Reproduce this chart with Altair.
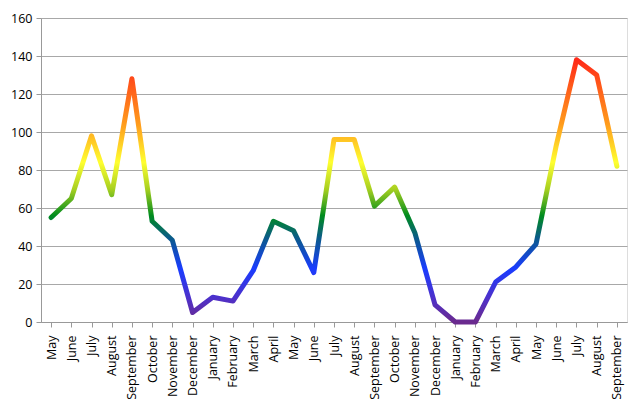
import altair as alt
import pandas as pd

months = ["May", "June", "July", "August", "September", "October", "November",
          "December", "January", "February", "March", "April", "May", "June",
          "July", "August", "September", "October", "November", "December",
          "January", "February", "March", "April", "May", "June", "July",
          "August", "September"]
values = [55, 65, 98, 67, 128, 53, 43, 5, 13, 11, 27, 53, 48, 26,
          96, 96, 61, 71, 47, 9, 0, 0, 21, 29, 41, 93, 138, 130, 82]

# colour stops along the value axis
stop_values = [0, 12, 28, 44, 56, 70, 84, 104, 124, 138]
stop_colors = ["#6a2a8e", "#4f30c8", "#1a3cff", "#0b5a8c", "#008c1e",
               "#a8d020", "#ffff30", "#ff9c1c", "#ff5a1a", "#ff2a18"]

df = pd.DataFrame({"i": list(range(len(months))), "month": months, "value": values})

vmax = max(values)
stops = [alt.GradientStop(offset=min(v / vmax, 1.0), color=c)
         for v, c in zip(stop_values, stop_colors)]

label_expr = "[" + ",".join("'" + m + "'" for m in months) + "][datum.value]"

chart = alt.Chart(df).mark_line(
    strokeWidth=5,
    strokeJoin="round",
    strokeCap="round",
    stroke=alt.Gradient(gradient="linear", x1=0, y1=1, x2=0, y2=0, stops=stops),
).encode(
    x=alt.X("i:O", title=None, sort=None,
            scale=alt.Scale(paddingInner=0, paddingOuter=0, align=0.5),
            axis=alt.Axis(labelExpr=label_expr, labelAngle=-90, bandPosition=0,
                          labelAlign="right", labelBaseline="middle",
                          labelFont="Open Sans", labelFontSize=12.5, labelColor="#000",
                          labelPadding=8, tickSize=5, tickColor="#999",
                          domainColor="#999", grid=False, labelOverlap=False)),
    y=alt.Y("value:Q", title=None,
            scale=alt.Scale(domain=[0, 160], nice=False),
            axis=alt.Axis(values=list(range(0, 161, 20)), labelFont="Open Sans",
                          labelFontSize=12.5, labelColor="#000", labelPadding=4,
                          tickSize=5, tickColor="#999", domainColor="#999",
                          gridColor="#a8a8a8", gridWidth=1.2)),
).properties(
    width=586, height=304,
    autosize=alt.AutoSizeParams(type="none"),
    padding={"left": 33, "top": 10, "right": 5, "bottom": 80},
).configure_view(stroke=None).configure(background="white")

chart.save("out.html", embed_options={"renderer": "svg", "actions": False})
